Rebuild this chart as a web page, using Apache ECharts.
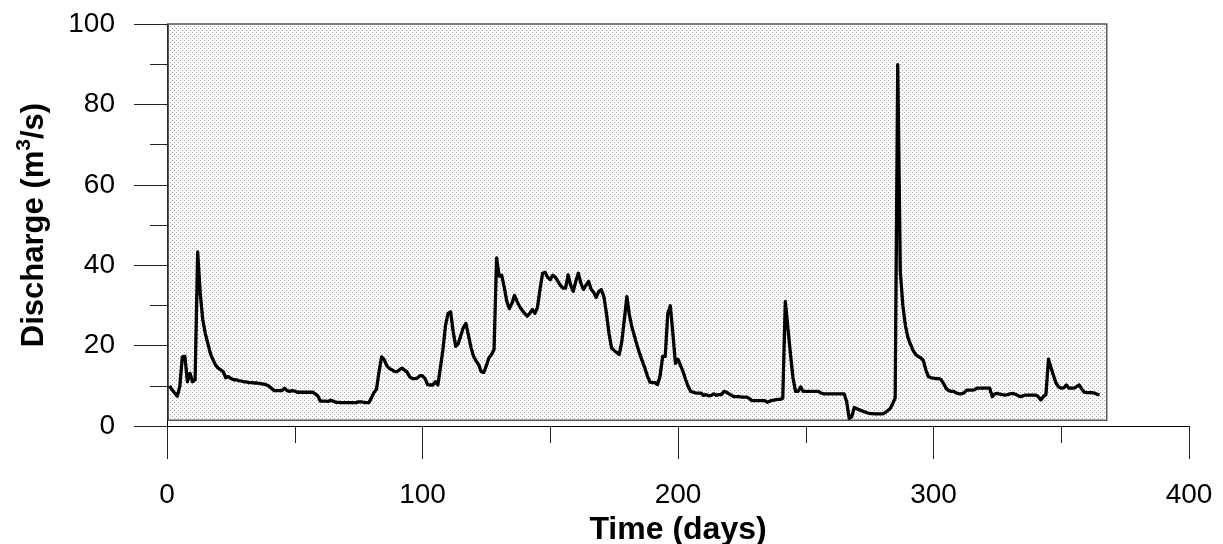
<!DOCTYPE html>
<html>
<head>
<meta charset="utf-8">
<script src="https://cdn.jsdelivr.net/npm/echarts@6/dist/echarts.min.js"></script>
<style>
html,body{margin:0;padding:0;background:#fff;}
#chart{width:1223px;height:544px;}
</style>
</head>
<body>
<div id="chart"></div>
<script>
// Daily discharge (m3/s), day 1 .. 365
const discharge = [
  10.0, 9.0, 8.2, 7.4, 9.8, 17.2, 17.3, 11.0, 13.1, 11.0,
  11.5, 43.3, 33.0, 26.5, 23.0, 20.5, 18.0, 16.5, 15.2, 14.4,
  14.0, 13.5, 12.0, 12.3, 11.8, 11.5, 11.5, 11.3, 11.2, 11.0,
  11.0, 10.8, 10.8, 10.7, 10.7, 10.6, 10.5, 10.4, 10.2, 9.9,
  9.3, 8.8, 8.8, 8.8, 8.8, 9.4, 8.8, 8.6, 8.8, 8.7,
  8.4, 8.4, 8.4, 8.4, 8.4, 8.4, 8.4, 8.0, 7.5, 6.2,
  6.2, 6.2, 6.1, 6.4, 6.2, 5.9, 5.9, 5.8, 5.8, 5.8,
  5.8, 5.8, 5.8, 5.8, 6.0, 6.0, 5.9, 5.8, 5.8, 7.0,
  8.3, 9.2, 13.5, 17.2, 16.5, 15.0, 14.3, 14.0, 13.6, 13.5,
  14.0, 14.4, 13.9, 13.4, 12.2, 11.8, 11.8, 11.9, 12.5, 12.5,
  11.8, 10.3, 10.2, 10.2, 11.0, 10.2, 14.5, 19.0, 25.0, 28.0,
  28.4, 23.5, 19.8, 20.5, 22.5, 24.5, 25.5, 22.5, 19.5, 17.3,
  16.2, 15.2, 13.5, 13.3, 15.0, 17.0, 17.8, 19.0, 41.8, 37.3,
  37.5, 34.5, 31.0, 29.2, 30.5, 32.5, 31.0, 29.7, 28.8, 28.0,
  27.3, 28.0, 29.0, 28.0, 29.5, 34.0, 38.0, 38.2, 37.0, 36.4,
  37.5, 37.0, 36.0, 35.0, 34.3, 34.3, 37.6, 35.0, 33.5, 36.0,
  38.0, 35.5, 34.0, 35.0, 36.0, 34.0, 33.2, 32.0, 33.5, 33.9,
  32.2, 28.0, 23.0, 19.4, 18.8, 18.3, 17.8, 21.0, 26.5, 32.2,
  27.5, 24.5, 22.3, 20.0, 18.0, 16.2, 14.5, 12.5, 10.9, 10.8,
  10.8, 10.3, 12.5, 17.3, 17.3, 28.0, 29.9, 23.0, 15.6, 16.6,
  15.0, 13.5, 11.5, 9.8, 8.6, 8.4, 8.2, 8.2, 8.2, 7.6,
  7.8, 7.5, 7.6, 8.0, 7.6, 7.8, 7.8, 8.6, 8.4, 8.0,
  7.6, 7.3, 7.3, 7.3, 7.2, 7.2, 7.2, 6.8, 6.3, 6.3,
  6.3, 6.3, 6.3, 6.3, 5.9, 6.2, 6.4, 6.5, 6.6, 6.6,
  6.9, 31.0, 24.5, 18.0, 12.0, 8.6, 8.6, 9.7, 8.6, 8.6,
  8.6, 8.6, 8.6, 8.6, 8.6, 8.2, 8.0, 8.0, 8.0, 8.0,
  8.0, 8.0, 8.0, 8.0, 8.0, 6.1, 1.9, 2.3, 4.6, 4.3,
  4.0, 3.8, 3.5, 3.3, 3.1, 3.1, 3.0, 3.0, 3.0, 3.0,
  3.3, 3.8, 4.3, 5.5, 7.0, 89.9, 38.5, 30.0, 25.0, 22.0,
  20.3, 18.8, 17.8, 17.3, 17.0, 16.3, 14.0, 12.3, 12.0, 11.9,
  11.8, 11.8, 11.5, 10.5, 9.3, 8.8, 8.6, 8.6, 8.2, 8.0,
  8.0, 8.3, 8.9, 8.9, 8.9, 9.0, 9.4, 9.4, 9.4, 9.4,
  9.4, 9.4, 7.3, 8.0, 8.1, 7.9, 7.8, 7.7, 7.8, 8.0,
  8.1, 7.9, 7.6, 7.3, 7.5, 7.7, 7.7, 7.7, 7.7, 7.7,
  7.3, 6.5, 7.3, 7.8, 16.6, 14.5, 12.5, 10.6, 9.7, 9.4,
  9.5, 10.2, 9.4, 9.4, 9.4, 9.8, 10.2, 9.2, 8.4, 8.3,
  8.3, 8.3, 8.2, 7.9, 7.7
];
const firstDay = 1;

// Plot frame (shaded box) corners in data units
const frameX = [0.5, 367.8];
const frameY = [1.4, 100.7];

const xTitle = 'Time (days)';
const yTitle = '{a|Discharge (m}{s|3}{a|/s)}';

const points = discharge.map((v, i) => [firstDay + i, v]);

// stipple pattern tile
const tile = document.createElement('canvas');
tile.width = 4; tile.height = 4;
const tctx = tile.getContext('2d');
tctx.fillStyle = '#fbfbfb';
tctx.fillRect(0, 0, 4, 4);
tctx.fillStyle = '#a8a8a8';
tctx.fillRect(0, 0, 1, 1);
tctx.fillRect(2, 2, 1, 1);

const chart = echarts.init(document.getElementById('chart'), null, {renderer: 'canvas'});
const font = 'Liberation Sans, Arial, sans-serif';
chart.setOption({
  animation: false,
  backgroundColor: '#ffffff',
  grid: {left: 167, right: 34, top: 24, bottom: 118, containLabel: false, outerBoundsMode: 'none'},
  xAxis: {
    type: 'value', min: 0, max: 400, interval: 100,
    name: xTitle, nameLocation: 'middle', nameGap: 87,
    nameTextStyle: {fontFamily: font, fontSize: 32, fontWeight: 'bold', color: '#000'},
    axisLine: {show: true, onZero: false, lineStyle: {color: '#000', width: 1}},
    axisTick: {show: true, length: 33, lineStyle: {color: '#222', width: 1}},
    minorTick: {show: true, splitNumber: 2, length: 17, lineStyle: {color: '#222', width: 1}},
    splitLine: {show: false}, minorSplitLine: {show: false},
    axisLabel: {fontFamily: font, fontSize: 28, color: '#000', margin: 55}
  },
  yAxis: {
    type: 'value', min: 0, max: 100, interval: 20,
    name: yTitle, nameLocation: 'middle', nameGap: 117,
    nameTextStyle: {
      fontFamily: font, fontSize: 31, fontWeight: 'bold', color: '#000',
      rich: {
        a: {fontFamily: font, fontSize: 31, fontWeight: 'bold', color: '#000', lineHeight: 36, verticalAlign: 'bottom'},
        s: {fontFamily: font, fontSize: 21, fontWeight: 'bold', color: '#000', lineHeight: 36, verticalAlign: 'top', padding: [0, 0, 12, 0]}
      }
    },
    axisLine: {show: true, onZero: false, lineStyle: {color: '#000', width: 1}},
    axisTick: {show: true, length: 33, lineStyle: {color: '#222', width: 1}},
    minorTick: {show: true, splitNumber: 2, length: 17, lineStyle: {color: '#222', width: 1}},
    splitLine: {show: false}, minorSplitLine: {show: false},
    axisLabel: {fontFamily: font, fontSize: 28, color: '#000', margin: 52}
  },
  series: [{
    type: 'line',
    data: points,
    showSymbol: false,
    symbol: 'none',
    clip: false,
    lineStyle: {color: '#000', width: 3.3, join: 'round'},
    markArea: {
      silent: true,
      label: {show: false},
      itemStyle: {color: {image: tile, repeat: 'repeat'}, borderColor: '#555', borderWidth: 1.5},
      data: [[{coord: [frameX[0], frameY[0]]}, {coord: [frameX[1], frameY[1]]}]]
    }
  }]
});
</script>
</body>
</html>
